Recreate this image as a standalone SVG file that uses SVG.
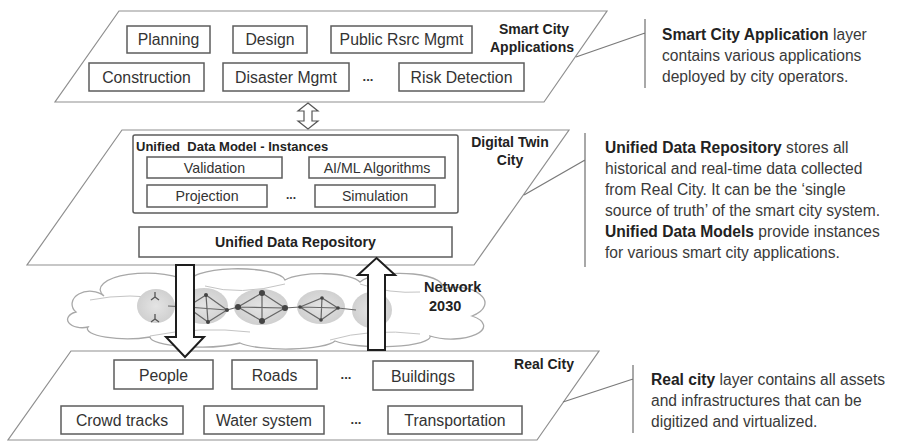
<svg xmlns="http://www.w3.org/2000/svg" width="897" height="442" viewBox="0 0 897 442">
  <defs>
    <style>
      text { font-family: "Liberation Sans", Arial, sans-serif; }
      .layer { fill: #fff; stroke: #8f8f8f; stroke-width: 1.2; }
      .box { fill: #fff; stroke: #5c5c5c; stroke-width: 1.5; }
      .lbl { font-size: 15.8px; fill: #333; text-anchor: middle; }
      .lbl-s { font-size: 14.2px; fill: #333; text-anchor: middle; }
      .dots { font-size: 13px; font-weight: bold; fill: #333; text-anchor: middle; }
      .ttl { font-size: 14px; font-weight: bold; fill: #222; text-anchor: middle; }
      .desc { font-size: 15.6px; fill: #3a3a3a; }
      .desc .b { font-weight: bold; fill: #222; }
      .callout { fill: none; stroke: #7a7a7a; stroke-width: 1.3; }
      .blk { fill: #fff; stroke: #1e1e1e; stroke-width: 2; stroke-linejoin: miter; }
      .link { fill: none; stroke: #666; stroke-width: 1.2; }
      .node { fill: #444; }
      .ant { fill: none; stroke: #555; stroke-width: 1.3; }
      .net { font-size: 14.5px; font-weight: bold; fill: #222; }
    </style>
    <radialGradient id="hub" cx="50%" cy="50%" r="50%">
      <stop offset="0" stop-color="#e4e4e4"/>
      <stop offset="1" stop-color="#d0d0d0"/>
    </radialGradient>
    <!-- small antenna glyph: stem with two legs -->
    <g id="antenna">
      <path class="ant" d="M0,-5 V0 L-4,3 M0,0 L4,3"/>
    </g>
  </defs>

  <!-- Smart City Applications layer -->
  <g id="layer-apps">
    <polygon class="layer" points="119,11 607,11 544,102 55,102"/>
    <text class="ttl" x="534" y="34">Smart City</text>
    <text class="ttl" x="532" y="52">Applications</text>
  </g>
  <g id="app-planning">
    <rect class="box" x="127" y="26" width="83" height="27"/>
    <text class="lbl" x="168.5" y="45">Planning</text>
  </g>
  <g id="app-design">
    <rect class="box" x="233" y="26" width="74" height="27"/>
    <text class="lbl" x="270" y="45">Design</text>
  </g>
  <g id="app-public">
    <rect class="box" x="331" y="26" width="141" height="27"/>
    <text class="lbl" x="401.5" y="45">Public Rsrc Mgmt</text>
  </g>
  <g id="app-construction">
    <rect class="box" x="89" y="63" width="115" height="28"/>
    <text class="lbl" x="146.5" y="82.5">Construction</text>
  </g>
  <g id="app-disaster">
    <rect class="box" x="223" y="63" width="126" height="28"/>
    <text class="lbl" x="286" y="82.5">Disaster Mgmt</text>
  </g>
  <text class="dots" x="368" y="81">...</text>
  <g id="app-risk">
    <rect class="box" x="399" y="63" width="125" height="28"/>
    <text class="lbl" x="461.5" y="82.5">Risk Detection</text>
  </g>

  <!-- Digital Twin City layer -->
  <g id="layer-twin">
    <polygon class="layer" points="122,130 569,130 474,265 27,265"/>
    <text class="ttl" x="510" y="147">Digital Twin</text>
    <text class="ttl" x="510" y="165">City</text>
  </g>
  <g id="data-model">
    <rect class="box" x="133" y="135" width="325" height="78" rx="2"/>
    <text x="136" y="151" style="font-size:13px;font-weight:bold;fill:#222" xml:space="preserve">Unified  Data Model - Instances</text>
  </g>
  <g id="dm-validation">
    <rect class="box" x="147" y="157" width="135" height="21"/>
    <text class="lbl-s" x="214.5" y="172.5">Validation</text>
  </g>
  <g id="dm-aiml">
    <rect class="box" x="309" y="157" width="136" height="21"/>
    <text class="lbl-s" x="377" y="172.5">AI/ML Algorithms</text>
  </g>
  <g id="dm-projection">
    <rect class="box" x="147" y="185" width="120" height="22"/>
    <text class="lbl-s" x="207" y="201">Projection</text>
  </g>
  <text class="dots" x="291" y="199" style="font-size:12px">...</text>
  <g id="dm-simulation">
    <rect class="box" x="315" y="185" width="120" height="22"/>
    <text class="lbl-s" x="375" y="201">Simulation</text>
  </g>
  <g id="repository">
    <rect class="box" x="139" y="227" width="313" height="30"/>
    <text x="295.5" y="247" style="font-size:14.2px;font-weight:bold;fill:#222;text-anchor:middle">Unified Data Repository</text>
  </g>

  <!-- Network 2030 cloud -->
  <g id="network">
    <path d="M76,312 A14,10 0 0 1 104,296 A40,14 0 0 1 190,283 A45,12 0 0 1 285,280 A40,11 0 0 1 360,282 A40,12 0 0 1 440,290 A26,14 0 0 1 472,316 A30,12 0 0 1 430,336 A50,10 0 0 1 335,341 A50,10 0 0 1 240,343 A50,10 0 0 1 150,337 A40,10 0 0 1 88,327 A14,8 0 0 1 76,312 Z" fill="#fff" stroke="#a8a8a8" stroke-width="1.3"/>
    <path d="M90,300 Q130,292 170,300 M205,286 Q240,296 285,284 M360,284 Q390,294 420,292 M150,336 Q200,326 250,332 M330,340 Q370,328 420,334" fill="none" stroke="#c4c4c4" stroke-width="1"/>
    <!-- hubs -->
    <ellipse cx="156" cy="306" rx="19" ry="17" fill="url(#hub)"/>
    <ellipse cx="204" cy="306" rx="24" ry="18" fill="url(#hub)"/>
    <ellipse cx="261" cy="307" rx="27" ry="18" fill="url(#hub)"/>
    <ellipse cx="321" cy="307" rx="24" ry="17" fill="url(#hub)"/>
    <ellipse cx="372" cy="310" rx="20" ry="18" fill="url(#hub)"/>
    <!-- backbone chain -->
    <path class="link" d="M168,306 L187,307 M227,310 L238,307 M285,308 L300,307 M338,308 L356,310"/>
    <!-- mesh 1 -->
    <path class="link" d="M187,307 L206,295 L227,310 L208,322 Z M206,295 L208,322 M187,307 L227,310"/>
    <g class="node"><circle cx="187" cy="307" r="2"/><circle cx="206" cy="295" r="2"/><circle cx="227" cy="310" r="2"/><circle cx="208" cy="322" r="2"/></g>
    <!-- mesh 2 -->
    <path class="link" d="M238,307 L262,293 L285,308 L262,321 Z M262,293 L262,321 M238,307 L285,308"/>
    <g class="node"><circle cx="238" cy="307" r="3"/><circle cx="262" cy="293" r="3"/><circle cx="285" cy="308" r="3"/><circle cx="262" cy="321" r="3"/></g>
    <!-- mesh 3 -->
    <path class="link" d="M300,307 L322,298 L338,308 L321,320 Z M322,298 L321,320 M300,307 L338,308"/>
    <g class="node"><circle cx="300" cy="307" r="1.8"/><circle cx="322" cy="298" r="1.8"/><circle cx="338" cy="308" r="1.8"/><circle cx="321" cy="320" r="1.8"/></g>
    <!-- access antennas -->
    <use href="#antenna" x="155" y="297"/>
    <use href="#antenna" x="155" y="319"/>
    <use href="#antenna" x="374" y="302"/>
    <use href="#antenna" x="373" y="324"/>
    <text class="net" x="424" y="292">Network</text>
    <text class="net" x="429" y="311">2030</text>
  </g>

  <!-- Real City layer -->
  <g id="layer-real">
    <polygon class="layer" points="71,351 599,351 537,440 8,440"/>
    <text class="ttl" x="544" y="369">Real City</text>
  </g>
  <g id="rc-people">
    <rect class="box" x="114" y="360" width="99" height="29"/>
    <text class="lbl" x="163.5" y="380.5">People</text>
  </g>
  <g id="rc-roads">
    <rect class="box" x="232" y="360" width="85" height="29"/>
    <text class="lbl" x="274.5" y="380.5">Roads</text>
  </g>
  <text class="dots" x="346" y="379">...</text>
  <g id="rc-buildings">
    <rect class="box" x="373" y="361" width="100" height="29"/>
    <text class="lbl" x="423" y="381.5">Buildings</text>
  </g>
  <g id="rc-crowd">
    <rect class="box" x="61" y="406" width="122" height="28"/>
    <text class="lbl" x="122" y="425.5">Crowd tracks</text>
  </g>
  <g id="rc-water">
    <rect class="box" x="204" y="406" width="120" height="28"/>
    <text class="lbl" x="264" y="425.5">Water system</text>
  </g>
  <text class="dots" x="356" y="424">...</text>
  <g id="rc-transport">
    <rect class="box" x="388" y="406" width="134" height="28"/>
    <text class="lbl" x="455" y="425.5">Transportation</text>
  </g>

  <!-- connectors -->
  <g id="connectors">
    <!-- apps <-> twin exchange -->
    <path class="blk" style="stroke:#555;stroke-width:1.2" d="M308,103 L318,111 H312 V121 H318 L308,129 L298,121 H304 V111 H298 Z"/>
    <!-- twin -> real city -->
    <path class="blk" d="M176,265 H194 V337 H204 L185,357 L166,337 H176 Z"/>
    <!-- real city -> twin -->
    <path class="blk" d="M376.5,258 L395,275 H385 V350 H368 V275 H358 Z"/>
    <!-- callout leaders -->
    <path class="callout" d="M576,57 L645,33 M645,19 V88"/>
    <path class="callout" d="M524,195 L585,160 M585,133 V267"/>
    <path class="callout" d="M563,402 L633,379 M633,365 V433"/>
  </g>

  <!-- layer descriptions -->
  <g id="note-apps">
    <text class="desc" x="662" y="40"><tspan class="b">Smart City Application</tspan> layer</text>
    <text class="desc" x="662" y="61">contains various applications</text>
    <text class="desc" x="662" y="82">deployed by city operators.</text>
  </g>
  <g id="note-twin">
    <text class="desc" x="605" y="153"><tspan class="b">Unified Data Repository</tspan> stores all</text>
    <text class="desc" x="605" y="174">historical and real-time data collected</text>
    <text class="desc" x="605" y="195">from Real City. It can be the ‘single</text>
    <text class="desc" x="605" y="216">source of truth’ of the smart city system.</text>
    <text class="desc" x="605" y="237"><tspan class="b">Unified Data Models</tspan> provide instances</text>
    <text class="desc" x="605" y="258">for various smart city applications.</text>
  </g>
  <g id="note-real">
    <text class="desc" x="651" y="385"><tspan class="b">Real city</tspan> layer contains all assets</text>
    <text class="desc" x="651" y="406">and infrastructures that can be</text>
    <text class="desc" x="651" y="427">digitized and virtualized.</text>
  </g>
</svg>
